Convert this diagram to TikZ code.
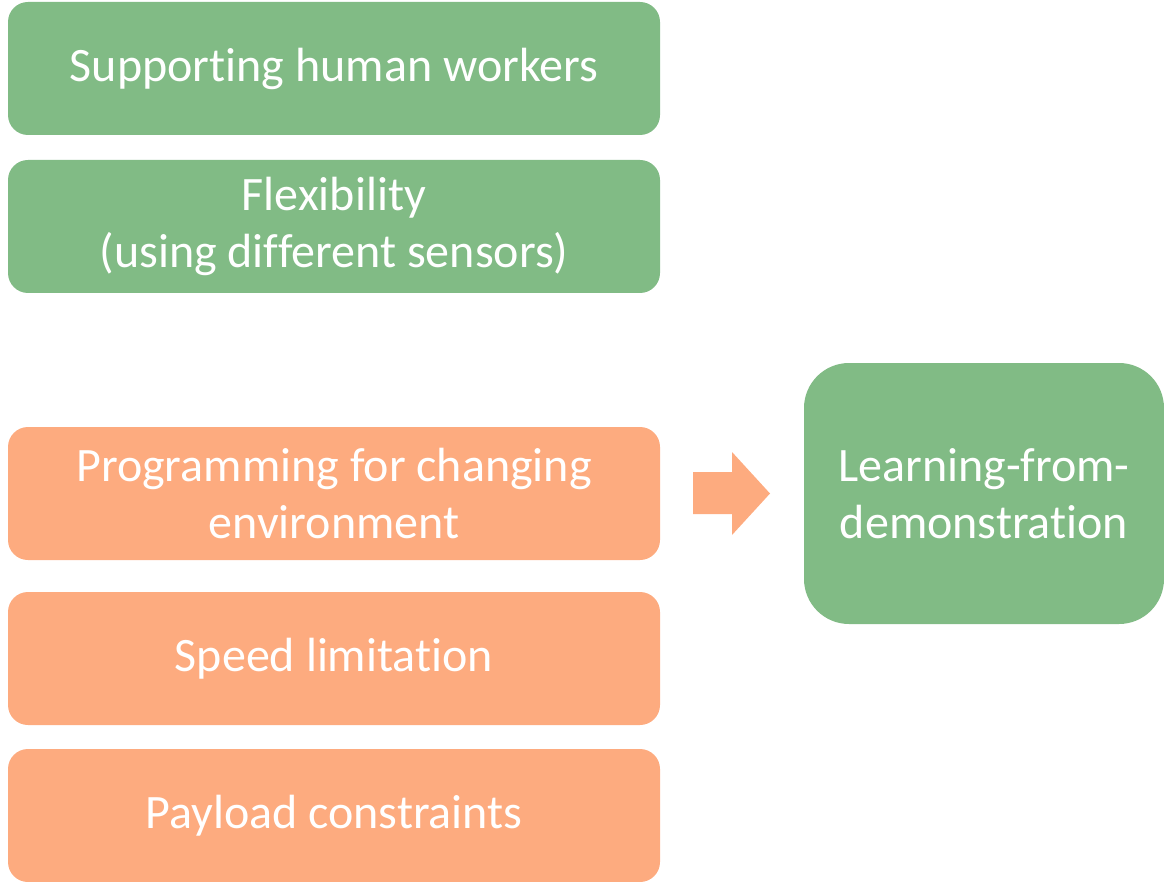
\documentclass[tikz,border=0pt]{standalone}
\usepackage{fontspec}
\setmainfont[Ligatures=NoCommon]{Carlito}
\usepackage{xcolor}
\usepackage{tikz}
\usetikzlibrary{positioning}

\definecolor{boxgreen}{HTML}{81BB85}
\definecolor{boxorange}{HTML}{FDAB7F}

\tikzset{
    itembox/.style={rounded corners=20pt, minimum width=652pt, minimum height=133pt,
        inner sep=0pt, align=center, text=white, font=\fontsize{48}{57}\selectfont},
    goodbox/.style={itembox, fill=boxgreen},
    limitbox/.style={itembox, fill=boxorange}
}

\begin{document}
\begin{tikzpicture}[x=1pt, y=-1pt]
        \useasboundingbox (0,0) rectangle (1164,882);
        \begin{scope}
            \node[goodbox] (support) at (334,68.5) {Supporting human workers};
            \node[goodbox] (flex) at (334,226.5) {Flexibility\\(using different sensors)};
        \end{scope}
        \begin{scope}
            \node[limitbox] (program) at (334,493.5) {Programming for changing\\environment};
            \node[limitbox] (speed) at (334,658.5) {Speed limitation};
            \node[limitbox] (payload) at (334,815.5) {Payload constraints};
        \end{scope}
        \fill[boxorange] (693,472) -- (732,472) -- (732,452) -- (770,493.5)
            -- (732,535) -- (732,514) -- (693,514) -- cycle;
        \node[itembox, fill=boxgreen, rounded corners=45pt, minimum width=360pt,
            minimum height=261pt] (lfd) at (984,493.5) {Learning-from-\\demonstration};
    \end{tikzpicture}
\end{document}
